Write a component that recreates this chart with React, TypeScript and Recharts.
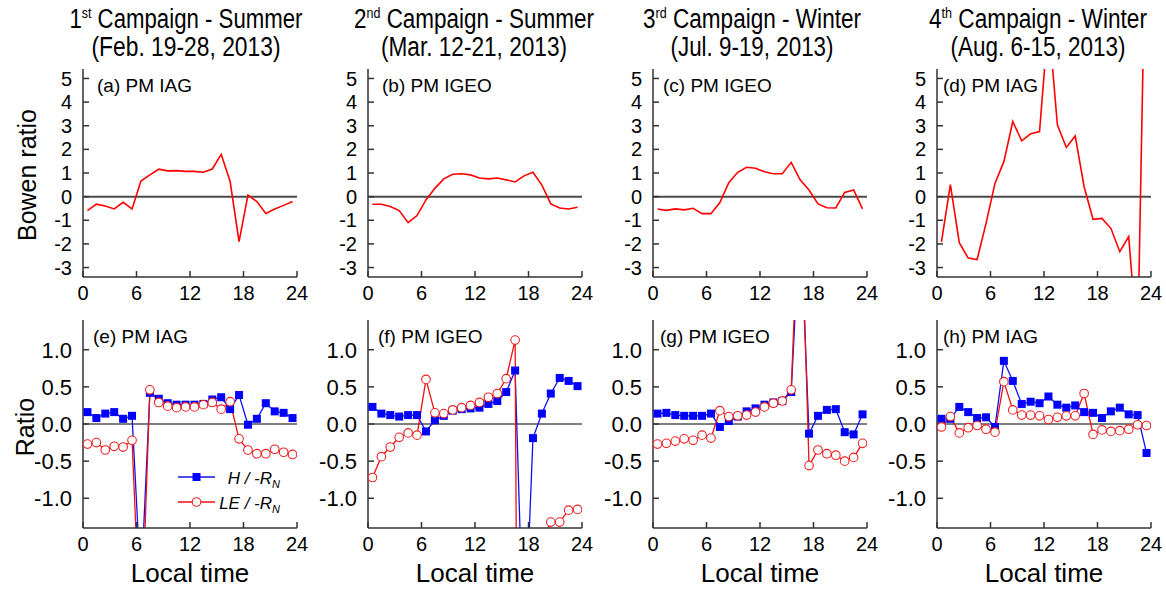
import React from 'react';
import { LineChart, Line, XAxis, YAxis, ReferenceLine } from 'recharts';

// Half-hourly local times (hour centres)
const HOURS = [0.5, 1.5, 2.5, 3.5, 4.5, 5.5, 6.5, 7.5, 8.5, 9.5, 10.5, 11.5, 12.5, 13.5, 14.5, 15.5, 16.5, 17.5, 18.5, 19.5, 20.5, 21.5, 22.5, 23.5];
const X_TICKS = [0, 6, 12, 18, 24];
const BOWEN_TICKS = [-3, -2, -1, 0, 1, 2, 3, 4, 5];
const RATIO_TICKS = [-1, -0.5, 0, 0.5, 1];

// Bowen ratio (H / LE)
const bowenA = [-0.59, -0.32, -0.4, -0.52, -0.24, -0.52, 0.66, 0.92, 1.16, 1.09, 1.1, 1.07, 1.07, 1.03, 1.17, 1.79, 0.64, -1.9, 0.06, -0.21, -0.71, -0.52, -0.37, -0.21];
const bowenB = [-0.32, -0.32, -0.42, -0.59, -1.1, -0.8, -0.14, 0.35, 0.75, 0.95, 0.97, 0.92, 0.79, 0.75, 0.79, 0.71, 0.62, 0.88, 1.03, 0.49, -0.31, -0.48, -0.52, -0.45];
const bowenC = [-0.52, -0.58, -0.52, -0.56, -0.49, -0.72, -0.72, -0.25, 0.59, 1.03, 1.24, 1.2, 1.05, 0.97, 0.97, 1.45, 0.71, 0.28, -0.31, -0.47, -0.48, 0.18, 0.28, -0.52];
const bowenD = [-1.91, 0.51, -1.95, -2.6, -2.66, -1.13, 0.56, 1.48, 3.18, 2.36, 2.66, 2.75, 7.5, 3.04, 2.08, 2.57, 0.42, -0.96, -0.92, -1.34, -2.33, -1.69, -6.4, 13.6];

// Energy-balance ratios H / -Rn and LE / -Rn
const hE = [0.16, 0.08, 0.14, 0.16, 0.07, 0.11, -2.2, 0.42, 0.34, 0.28, 0.26, 0.26, 0.26, 0.27, 0.33, 0.36, 0.2, 0.39, -0.01, 0.07, 0.28, 0.17, 0.15, 0.08];
const leE = [-0.27, -0.25, -0.35, -0.3, -0.31, -0.22, -3.0, 0.46, 0.29, 0.24, 0.22, 0.23, 0.23, 0.26, 0.29, 0.2, 0.3, -0.2, -0.35, -0.4, -0.4, -0.34, -0.38, -0.41];
const hF = [0.23, 0.14, 0.12, 0.1, 0.12, 0.12, -0.1, 0.05, 0.11, 0.18, 0.2, 0.21, 0.22, 0.27, 0.31, 0.43, 0.72, -3.2, -0.19, 0.14, 0.41, 0.62, 0.58, 0.51];
const leF = [-0.72, -0.44, -0.31, -0.18, -0.12, -0.15, 0.6, 0.15, 0.14, 0.19, 0.22, 0.25, 0.29, 0.36, 0.41, 0.61, 1.13, -20, -8, -1.6, -1.32, -1.32, -1.16, -1.15];
const hG = [0.14, 0.15, 0.12, 0.11, 0.11, 0.11, 0.14, -0.04, 0.04, 0.1, 0.17, 0.21, 0.26, 0.29, 0.31, 0.43, 2.8, -0.13, 0.11, 0.19, 0.2, -0.11, -0.14, 0.13];
const leG = [-0.27, -0.26, -0.23, -0.2, -0.22, -0.15, -0.19, 0.18, 0.1, 0.11, 0.12, 0.16, 0.23, 0.28, 0.31, 0.46, 3.5, -0.56, -0.35, -0.4, -0.42, -0.5, -0.45, -0.26];
const hH = [0.07, 0.07, 0.23, 0.16, 0.08, 0.09, -0.04, 0.85, 0.58, 0.27, 0.3, 0.28, 0.37, 0.26, 0.22, 0.25, 0.16, 0.15, 0.08, 0.17, 0.22, 0.13, 0.12, -0.39];
const leH = [-0.04, 0.1, -0.12, -0.05, -0.02, -0.07, -0.11, 0.57, 0.19, 0.12, 0.12, 0.11, 0.06, 0.09, 0.11, 0.11, 0.41, -0.14, -0.08, -0.1, -0.09, -0.07, -0.01, -0.02];

const CAMPAIGNS = [
  { ord: '1', sup: 'st', season: 'Summer', dates: '(Feb. 19-28, 2013)' },
  { ord: '2', sup: 'nd', season: 'Summer', dates: '(Mar. 12-21, 2013)' },
  { ord: '3', sup: 'rd', season: 'Winter', dates: '(Jul. 9-19, 2013)' },
  { ord: '4', sup: 'th', season: 'Winter', dates: '(Aug. 6-15, 2013)' },
];
const TOP_LABELS = ['(a) PM IAG', '(b) PM IGEO', '(c) PM IGEO', '(d) PM IAG'];
const BOTTOM_LABELS = ['(e) PM IAG', '(f) PM IGEO', '(g) PM IGEO', '(h) PM IAG'];

// layout
const PANEL_LEFTS = [83, 368, 653, 937];
const TOP_LABEL_DX = [14, 14, 10, 6];
const BOTTOM_LABEL_DX = [10, 10, 7, 6];
const TITLE_CX = [186, 474, 752, 1038];
const TITLE_W1 = [233, 240, 218, 218];
const TITLE_W2 = [189, 186, 163, 175];
const PLOT_W = 214;
const PLOT_H = 208;
const TOP_ROW_Y = 69;
const BOTTOM_ROW_Y = 320;
const Y_AXIS_W = 56;
const X_AXIS_H = 34;
const PAD = 3;
const PAD_R = 16;

const FONT = "'Liberation Sans', Arial, Helvetica, sans-serif";
const FRAME = { stroke: '#333', strokeWidth: 1.5 };
const X_TICK_STYLE = { fill: '#000', fontSize: 20, fontFamily: FONT };
const BOWEN_TICK_STYLE = { fill: '#000', fontSize: 20, fontFamily: FONT };
const RATIO_TICK_STYLE = { fill: '#000', fontSize: 22, fontFamily: FONT };

const SquareDot = (p: any) => {
  if (p.cx == null || p.cy == null) return <g key={`sq-${p.index}`} />;
  return <rect key={`sq-${p.index}`} x={p.cx - 4} y={p.cy - 4} width={8} height={8} fill="#0000ff" />;
};
const CircleDot = (p: any) => {
  if (p.cx == null || p.cy == null) return <g key={`ci-${p.index}`} />;
  return <circle key={`ci-${p.index}`} cx={p.cx} cy={p.cy} r={4.3} fill="#fff" stroke="#ee2222" strokeWidth={1.1} />;
};

type PanelProps = {
  left: number;
  top: number;
  kind: 'bowen' | 'ratio';
  bowen?: number[];
  h?: number[];
  le?: number[];
};

function Panel({ left, top, kind, bowen, h, le }: PanelProps) {
  const isBowen = kind === 'bowen';
  const data = HOURS.map((t, i) =>
    isBowen ? { t, b: bowen![i] } : { t, h: h![i], le: le![i] }
  );
  return (
    <div style={{ position: 'absolute', left: left - Y_AXIS_W, top: top - PAD }}>
      <LineChart
        width={Y_AXIS_W + PLOT_W + PAD_R}
        height={PAD + PLOT_H + X_AXIS_H}
        data={data}
        margin={{ top: PAD, right: PAD_R, bottom: 0, left: 0 }}
      >
        <XAxis
          dataKey="t"
          type="number"
          domain={[0, 24]}
          ticks={X_TICKS}
          interval={0}
          allowDataOverflow
          height={X_AXIS_H}
          tickSize={-6}
          tickMargin={15}
          axisLine={FRAME}
          tickLine={FRAME}
          tick={X_TICK_STYLE}
        />
        <XAxis
          xAxisId="top"
          orientation="top"
          type="number"
          domain={[0, 24]}
          height={0}
          tick={false}
          tickLine={false}
          axisLine={FRAME}
        />
        <YAxis
          type="number"
          domain={isBowen ? [-3.4, 5.4] : [-1.4, 1.4]}
          ticks={isBowen ? BOWEN_TICKS : RATIO_TICKS}
          interval={0}
          allowDataOverflow
          width={Y_AXIS_W}
          tickSize={-6}
          tickMargin={17}
          axisLine={FRAME}
          tickLine={FRAME}
          tick={isBowen ? BOWEN_TICK_STYLE : RATIO_TICK_STYLE}
          tickFormatter={(v: number) => (isBowen ? String(v) : v.toFixed(1))}
        />
        <YAxis
          yAxisId="right"
          orientation="right"
          type="number"
          domain={[0, 1]}
          width={0}
          tick={false}
          tickLine={false}
          axisLine={FRAME}
        />
        <ReferenceLine
          y={0}
          stroke={isBowen ? '#4a4a4a' : '#000'}
          strokeWidth={isBowen ? 2 : 1.2}
        />
        {isBowen && (
          <Line dataKey="b" stroke="#ff0000" strokeWidth={1.6} dot={false} activeDot={false} isAnimationActive={false} />
        )}
        {!isBowen && (
          <Line dataKey="h" stroke="#1010ee" strokeWidth={1.3} dot={SquareDot} activeDot={false} isAnimationActive={false} />
        )}
        {!isBowen && (
          <Line dataKey="le" stroke="#ee1111" strokeWidth={1.3} dot={CircleDot} activeDot={false} isAnimationActive={false} />
        )}
      </LineChart>
    </div>
  );
}

export default function App() {
  const bowens = [bowenA, bowenB, bowenC, bowenD];
  const hs = [hE, hF, hG, hH];
  const les = [leE, leF, leG, leH];
  const titleFont = "'Liberation Sans Narrow', 'Arial Narrow', 'Liberation Sans', sans-serif";
  return (
    <div style={{ position: 'absolute', left: 0, top: 0, width: 1166, height: 589, background: '#fff', overflow: 'hidden' }}>
      {PANEL_LEFTS.map((x, i) => (
        <Panel key={`b${i}`} left={x} top={TOP_ROW_Y} kind="bowen" bowen={bowens[i]} />
      ))}
      {PANEL_LEFTS.map((x, i) => (
        <Panel key={`r${i}`} left={x} top={BOTTOM_ROW_Y} kind="ratio" h={hs[i]} le={les[i]} />
      ))}
      <svg
        width={1166}
        height={589}
        style={{ position: 'absolute', left: 0, top: 0, pointerEvents: 'none' }}
        fontFamily={FONT}
      >
        {CAMPAIGNS.map((c, i) => (
          <g key={`title${i}`} fill="#000">
            <text
              x={TITLE_CX[i]}
              y={28}
              textAnchor="middle"
              fontSize={27}
              fontFamily={titleFont}
              textLength={TITLE_W1[i]}
              lengthAdjust="spacingAndGlyphs"
            >
              {c.ord}
              <tspan dy={-10} fontSize={15}>{c.sup}</tspan>
              <tspan dy={10}>{` Campaign - ${c.season}`}</tspan>
            </text>
            <text
              x={TITLE_CX[i]}
              y={56}
              textAnchor="middle"
              fontSize={27}
              fontFamily={titleFont}
              textLength={TITLE_W2[i]}
              lengthAdjust="spacingAndGlyphs"
            >
              {c.dates}
            </text>
          </g>
        ))}
        {PANEL_LEFTS.map((x, i) => (
          <text key={`tl${i}`} x={x + TOP_LABEL_DX[i]} y={TOP_ROW_Y + 23} fontSize={19} fill="#000">
            {TOP_LABELS[i]}
          </text>
        ))}
        {PANEL_LEFTS.map((x, i) => (
          <text key={`bl${i}`} x={x + BOTTOM_LABEL_DX[i]} y={BOTTOM_ROW_Y + 23} fontSize={19} fill="#000">
            {BOTTOM_LABELS[i]}
          </text>
        ))}
        {PANEL_LEFTS.map((x, i) => (
          <text key={`lt${i}`} x={x + PLOT_W / 2} y={582} textAnchor="middle" fontSize={26} fill="#000">
            Local time
          </text>
        ))}
        <text transform="translate(36,175) rotate(-90)" textAnchor="middle" fontSize={25} fill="#000">
          Bowen ratio
        </text>
        <text transform="translate(34,427) rotate(-90)" textAnchor="middle" fontSize={25} fill="#000">
          Ratio
        </text>
        {/* legend for the energy-balance ratio series */}
        <g>
          <line x1={178} y1={477} x2={215} y2={477} stroke="#1010ee" strokeWidth={1.3} />
          <rect x={192.5} y={473} width={8} height={8} fill="#0000ff" />
          <text x={280} y={484} textAnchor="end" fontSize={17} fontStyle="italic" fill="#000">
            H / -R<tspan dy={4} fontSize={11}>N</tspan>
          </text>
          <line x1={178} y1={502} x2={215} y2={502} stroke="#ee1111" strokeWidth={1.3} />
          <circle cx={196.5} cy={502} r={4.3} fill="#fff" stroke="#ee2222" strokeWidth={1.1} />
          <text x={280} y={509} textAnchor="end" fontSize={17} fontStyle="italic" fill="#000">
            LE / -R<tspan dy={4} fontSize={11}>N</tspan>
          </text>
        </g>
      </svg>
    </div>
  );
}
